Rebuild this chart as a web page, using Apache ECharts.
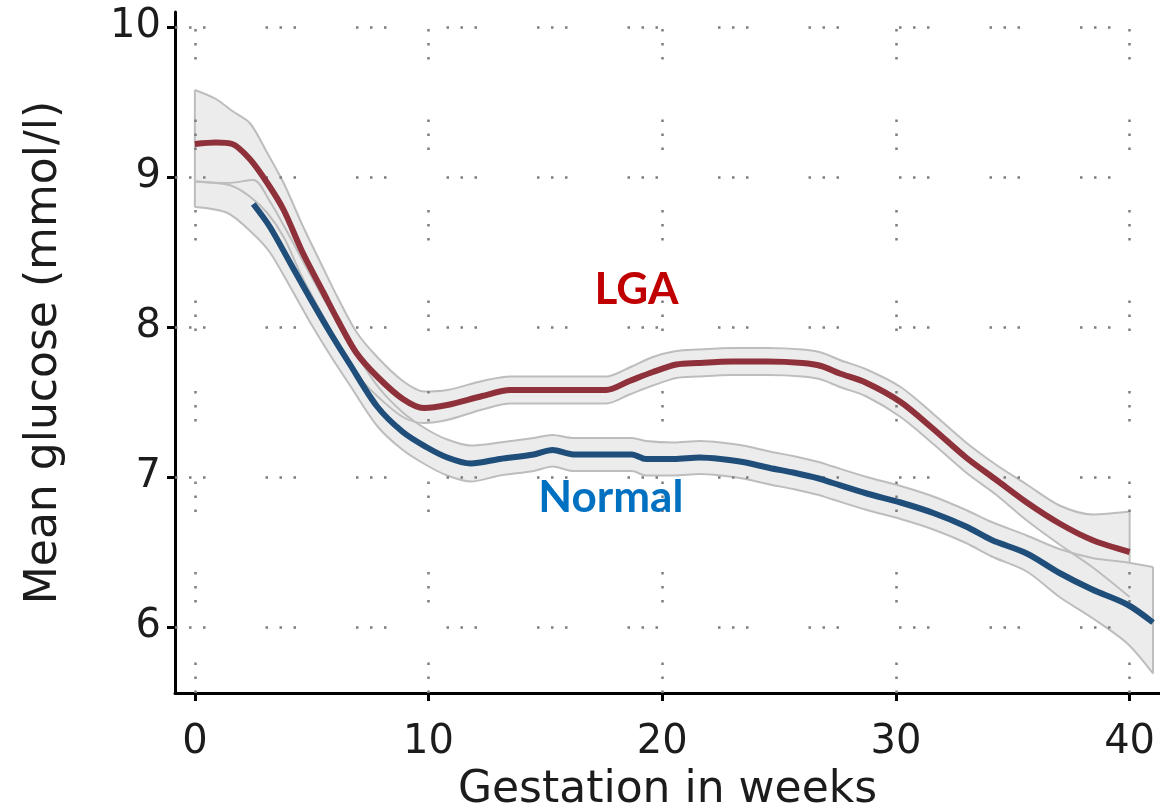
<!DOCTYPE html>
<html>
<head>
<meta charset="utf-8">
<title>Mean glucose by gestation</title>
<script src="https://cdn.jsdelivr.net/npm/echarts@6/dist/echarts.min.js"></script>
<style>
  html, body { margin: 0; padding: 0; background: #ffffff; }
  #chart { width: 1160px; height: 812px; }
</style>
</head>
<body>
<div id="chart"></div>
<script>
// Axis ticks
const weekTicks = [0, 10, 20, 30, 40];
const glucoseTicks = [6, 7, 8, 9, 10];

// LGA group: smoothed mean glucose with its confidence band
const lgaWeeks = [0, 0.9, 1.6, 2.35, 3.1, 3.8, 4.6, 5.5, 6.1, 6.9, 7.8, 8.9, 9.8, 10.8, 12.3, 13.5, 15.0, 16.5, 17.6, 18.6, 19.6, 20.6, 21.5, 23.0, 24.5, 26.0, 26.8, 27.6, 28.7, 30.2, 31.6, 33.0, 34.3, 35.6, 37.0, 38.4, 40.0];
const lgaMean  = [9.22, 9.23, 9.22, 9.12, 8.96, 8.78, 8.50, 8.23, 8.05, 7.83, 7.67, 7.52, 7.46, 7.48, 7.54, 7.58, 7.58, 7.58, 7.58, 7.64, 7.70, 7.75, 7.76, 7.77, 7.77, 7.76, 7.74, 7.69, 7.63, 7.50, 7.32, 7.13, 6.98, 6.83, 6.69, 6.58, 6.50];
const lgaUpper = [9.58, 9.52, 9.44, 9.36, 9.16, 8.96, 8.68, 8.39, 8.20, 7.97, 7.80, 7.64, 7.57, 7.58, 7.64, 7.67, 7.67, 7.67, 7.67, 7.73, 7.80, 7.84, 7.85, 7.86, 7.86, 7.85, 7.83, 7.78, 7.72, 7.60, 7.42, 7.23, 7.08, 6.95, 6.81, 6.75, 6.77];
const lgaLower = [8.97, 8.96, 8.94, 8.87, 8.76, 8.60, 8.33, 8.07, 7.90, 7.69, 7.54, 7.40, 7.36, 7.38, 7.45, 7.49, 7.49, 7.49, 7.49, 7.55, 7.61, 7.66, 7.67, 7.68, 7.68, 7.67, 7.65, 7.60, 7.54, 7.40, 7.22, 7.03, 6.88, 6.71, 6.55, 6.40, 6.20];

// Normal group: smoothed mean glucose
const normalWeeks = [2.5, 3.2, 4.07, 4.9, 5.8, 6.6, 7.8, 8.9, 9.9, 10.8, 11.8, 13.05, 14.5, 15.3, 16.2, 17.5, 18.7, 19.3, 20.5, 21.6, 22.5, 23.45, 24.6, 25.6, 26.7, 27.3, 28.75, 30.2, 31.6, 33.0, 34.1, 35.6, 37.0, 38.4, 39.9, 41.0];
const normalMean  = [8.82, 8.67, 8.43, 8.20, 7.96, 7.76, 7.47, 7.30, 7.20, 7.13, 7.09, 7.12, 7.15, 7.18, 7.15, 7.15, 7.15, 7.12, 7.12, 7.13, 7.12, 7.10, 7.06, 7.03, 6.99, 6.96, 6.89, 6.83, 6.76, 6.67, 6.58, 6.49, 6.36, 6.25, 6.15, 6.03];

// Normal group: confidence band
const normalBandWeeks = [0, 1.4, 2.5, 3.2, 4.07, 4.9, 5.8, 6.6, 7.8, 8.9, 9.9, 10.8, 11.8, 13.05, 14.5, 15.3, 16.2, 17.5, 18.7, 19.3, 20.5, 21.6, 22.5, 23.45, 24.6, 25.6, 26.7, 27.3, 28.75, 30.2, 31.6, 33.0, 34.1, 35.6, 37.0, 38.4, 39.9, 41.0];
const normalUpper = [8.97, 8.96, 8.98, 8.84, 8.60, 8.36, 8.11, 7.90, 7.61, 7.43, 7.32, 7.25, 7.21, 7.23, 7.26, 7.28, 7.26, 7.26, 7.26, 7.24, 7.23, 7.24, 7.23, 7.21, 7.17, 7.14, 7.10, 7.07, 7.00, 6.94, 6.87, 6.78, 6.70, 6.61, 6.52, 6.46, 6.43, 6.40];
const normalLower = [8.80, 8.76, 8.62, 8.50, 8.27, 8.04, 7.81, 7.62, 7.34, 7.18, 7.08, 7.01, 6.97, 7.01, 7.04, 7.07, 7.04, 7.04, 7.04, 7.01, 7.01, 7.02, 7.01, 6.99, 6.95, 6.92, 6.88, 6.85, 6.78, 6.72, 6.65, 6.56, 6.47, 6.37, 6.20, 6.06, 5.89, 5.69];

// Group labels and where they sit (weeks, mmol/l)
const groupLabels = [
  { text: 'LGA',    at: [18.9, 8.25], color: '#C00000' },
  { text: 'Normal', at: [17.8, 6.86], color: '#0070C0' }
];

const AXIS_FONT = 'DejaVu Sans';
const TEXT_COLOR = '#1c1c1c';
const BAND_FILL = '#ececec';
const BAND_EDGE = '#bdbdbd';

const pairs = (xs, ys) => xs.map((x, i) => [x, ys[i]]);

// Shaded band: filled polygon between lower and upper edges, with end caps
function bandFill(xs, lo, up, z) {
  return {
    type: 'custom',
    silent: true,
    z: z,
    data: xs.map((x, i) => [x, lo[i], up[i]]),
    encode: { x: 0, y: [1, 2] },
    renderItem: function (params, api) {
      if (params.dataIndex !== 0) return null;
      const n = xs.length;
      const pts = [];
      for (let i = 0; i < n; i++) pts.push(api.coord([xs[i], up[i]]));
      for (let i = n - 1; i >= 0; i--) pts.push(api.coord([xs[i], lo[i]]));
      const a0 = api.coord([xs[0], lo[0]]), b0 = api.coord([xs[0], up[0]]);
      const a1 = api.coord([xs[n - 1], lo[n - 1]]), b1 = api.coord([xs[n - 1], up[n - 1]]);
      const capStyle = { stroke: BAND_EDGE, lineWidth: 2, fill: null };
      return {
        type: 'group',
        children: [
          { type: 'polygon', shape: { points: pts }, style: { fill: BAND_FILL, stroke: null } },
          { type: 'line', shape: { x1: a0[0], y1: a0[1], x2: b0[0], y2: b0[1] }, style: capStyle },
          { type: 'line', shape: { x1: a1[0], y1: a1[1], x2: b1[0], y2: b1[1] }, style: capStyle }
        ]
      };
    }
  };
}

function bandEdge(xs, ys, z) {
  return {
    type: 'line',
    silent: true,
    z: z,
    data: pairs(xs, ys),
    symbol: 'none',
    smooth: 0.3,
    lineStyle: { color: BAND_EDGE, width: 2 }
  };
}

function meanLine(name, xs, ys, color) {
  return {
    name: name,
    type: 'line',
    z: 5,
    data: pairs(xs, ys),
    symbol: 'none',
    smooth: 0.3,
    lineStyle: { color: color, width: 6 }
  };
}

// sparse dotted reference grid: runs of three dots, then a gap
const gridDots = { color: '#7d7d7d', width: 2.5, type: [2.5, 11.5, 2.5, 11.5, 2.5, 60] };

const option = {
  backgroundColor: '#ffffff',
  animation: false,
  grid: { left: 175, right: 0, top: 12, bottom: 119, containLabel: false, outerBoundsMode: 'none' },
  xAxis: {
    type: 'value',
    min: -0.85,
    max: 41.3,
    name: 'Gestation in weeks',
    nameLocation: 'middle',
    nameGap: 76,
    nameTextStyle: { fontFamily: AXIS_FONT, fontSize: 44, color: TEXT_COLOR },
    axisLine: { show: true, onZero: false, lineStyle: { color: '#000', width: 3 } },
    axisTick: { show: true, length: 8, lineStyle: { color: '#000', width: 3 }, customValues: weekTicks },
    axisLabel: { fontFamily: AXIS_FONT, fontSize: 40, color: TEXT_COLOR, margin: 30, customValues: weekTicks },
    splitLine: { show: false }
  },
  yAxis: {
    type: 'value',
    min: 5.56,
    max: 10.1,
    name: 'Mean glucose (mmol/l)',
    nameLocation: 'middle',
    nameGap: 108,
    nameTextStyle: { fontFamily: AXIS_FONT, fontSize: 44, color: TEXT_COLOR },
    axisLine: { show: true, onZero: false, lineStyle: { color: '#000', width: 3 } },
    axisTick: { show: true, length: 8, lineStyle: { color: '#000', width: 3 }, customValues: glucoseTicks },
    axisLabel: { fontFamily: AXIS_FONT, fontSize: 40, color: TEXT_COLOR, margin: 14, customValues: glucoseTicks },
    splitLine: { show: false }
  },
  series: [
    // dotted reference grid at the tick values
    {
      type: 'line',
      data: [],
      z: 1,
      silent: true,
      markLine: {
        silent: true,
        symbol: 'none',
        label: { show: false },
        lineStyle: gridDots,
        emphasis: { disabled: true },
        data: glucoseTicks.map(v => ({ yAxis: v })).concat(weekTicks.map(v => ({ xAxis: v })))
      }
    },
    bandFill(lgaWeeks, lgaLower, lgaUpper, 2),
    bandFill(normalBandWeeks, normalLower, normalUpper, 2),
    bandEdge(lgaWeeks, lgaUpper, 3),
    bandEdge(lgaWeeks, lgaLower, 3),
    bandEdge(normalBandWeeks, normalUpper, 3),
    bandEdge(normalBandWeeks, normalLower, 3),
    meanLine('Normal', normalWeeks, normalMean, '#1f4e7a'),
    meanLine('LGA', lgaWeeks, lgaMean, '#8e313a'),
    // group names placed in data space
    {
      type: 'scatter',
      z: 6,
      silent: true,
      symbolSize: 0,
      itemStyle: { opacity: 0 },
      data: groupLabels.map(g => ({
        value: g.at,
        label: {
          show: true,
          position: 'inside',
          formatter: g.text,
          fontFamily: 'Lato',
          fontWeight: 'bold',
          fontSize: 44,
          color: g.color,
          opacity: 1,
          textBorderWidth: 0,
          textBorderColor: 'transparent',
          textShadowBlur: 0
        }
      }))
    }
  ]
};

const chart = echarts.init(document.getElementById('chart'), null, { renderer: 'canvas' });
chart.setOption(option);
</script>
</body>
</html>
